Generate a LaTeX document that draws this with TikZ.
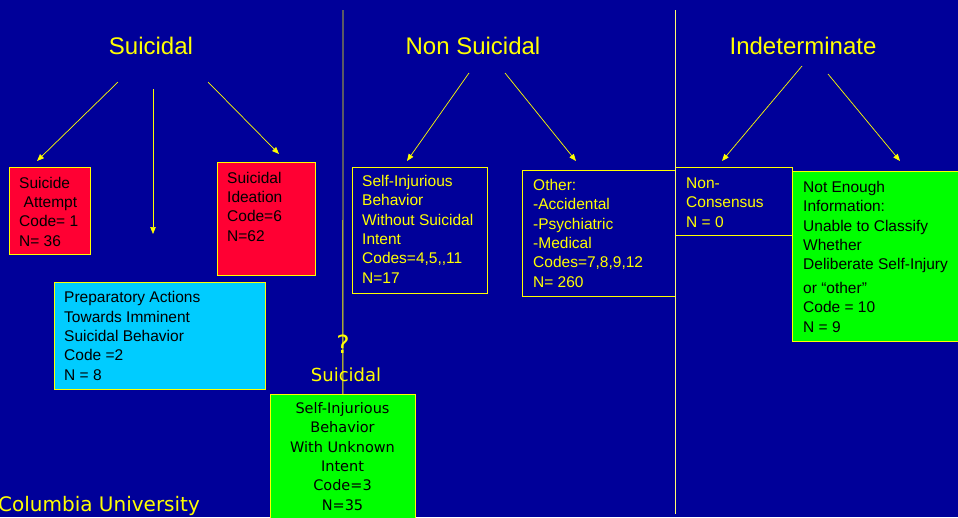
\documentclass[tikz,border=0pt]{standalone}
\usepackage{fontspec}
\setmainfont{Liberation Sans}
\newfontfamily\tahomalike{DejaVu Sans}
\usetikzlibrary{arrows.meta}
\definecolor{bgblue}{RGB}{0,0,153}
\definecolor{boxred}{RGB}{255,0,51}
\definecolor{boxcyan}{RGB}{0,204,255}
\definecolor{boxgreen}{RGB}{0,255,0}
\definecolor{lineyellow}{RGB}{255,255,0}
\definecolor{paleyellow}{RGB}{255,255,110}

\begin{document}
\begin{tikzpicture}
            [x=1pt,y=-1pt,every node/.style={inner sep=0pt},
             box/.style={draw=lineyellow,line width=0.8pt,anchor=north west},
             txt/.style={anchor=base west,align=left,font=\fontsize{15.5}{19.3}\selectfont},
             title/.style={anchor=base,text=lineyellow,font=\fontsize{24}{28}\selectfont},
             arr/.style={draw=lineyellow,line width=0.7pt,-{Triangle[length=7pt,width=5.5pt]}}]
            \fill[bgblue] (0,0) rectangle (958,517);
            \clip (0,0) rectangle (958,517);
            % headings
            \node[title] (suic) at (151,54) {Suicidal};
            \node[title] (nonsuic) at (473,54) {Non Suicidal};
            \node[title] (indet) at (803,54) {Indeterminate};
            % arrow ends
            \coordinate (s1) at (118,82);
            \coordinate (s1e) at (37,161);
            \coordinate (s2) at (153,89);
            \coordinate (s2e) at (153,234);
            \coordinate (s3) at (208,82);
            \coordinate (s3e) at (279,154);
            \coordinate (n1) at (469,73);
            \coordinate (n1e) at (407,161);
            \coordinate (n2) at (505,73);
            \coordinate (n2e) at (576,161);
            \coordinate (i1) at (802,66);
            \coordinate (i1e) at (722,161);
            \coordinate (i2) at (828,74);
            \coordinate (i2e) at (900,161);
            \coordinate (top1) at (343,10);
            \coordinate (top2) at (675,10);
            \coordinate (bot2) at (675,514);
            % boxes
            \node[box,fill=boxred,minimum width=81,minimum height=87] (attempt) at (9,167) {};
            \node[box,fill=boxred,minimum width=98,minimum height=113] (ideation) at (217,162) {};
            \node[box,fill=boxcyan,minimum width=211,minimum height=107] (prep) at (54,282) {};
            \node[box,minimum width=135,minimum height=126] (nosuic) at (352,167) {};
            \node[box,minimum width=153,minimum height=126] (other) at (522,170) {};
            \node[box,minimum width=117,minimum height=68] (noncons) at (675,167) {};
            \node[box,fill=boxgreen,minimum width=170,minimum height=170] (noinfo) at (792,171) {};
            \node[box,fill=boxgreen,minimum width=145,minimum height=130] (unknown) at (270,394) {};
            % the dividers
            \draw[lineyellow,line width=0.9pt] (top1) -- (unknown.north);
            \draw[paleyellow,line width=0.9pt] (top2) -- (bot2);
            % arrows
            \draw[arr] (s1) -- (s1e);
            \draw[arr] (s2) -- (s2e);
            \draw[arr] (s3) -- (s3e);
            \draw[arr] (n1) -- (n1e);
            \draw[arr] (n2) -- (n2e);
            \draw[arr] (i1) -- (i1e);
            \draw[arr] (i2) -- (i2e);
            % box texts (placed by their last baseline)
            \node[txt] (attempt-t) at (19,246) {Suicide\\\hspace*{4.5pt}Attempt\\Code= 1\\N= 36};
            \node[txt] (ideation-t) at (227,241) {Suicidal\\Ideation\\Code=6\\N=62};
            \node[txt] (prep-t) at (64,380) {Preparatory Actions\\Towards Imminent\\Suicidal Behavior\\Code =2\\N = 8};
            \node[txt,text=lineyellow] (nosuic-t) at (362,283) {Self-Injurious\\Behavior\\Without Suicidal\\Intent\\Codes=4,5,{},11\\N=17};
            \node[txt,text=lineyellow] (other-t) at (533,287) {Other:\\-Accidental\\-Psychiatric\\-Medical\\Codes=7,8,9,12\\N= 260};
            \node[txt,text=lineyellow] (noncons-t) at (686,227) {Non-\\Consensus\\N = 0};
            \node[txt] (noinfo-t) at (803,332) {Not Enough\\Information:\\Unable to Classify\\Whether\\Deliberate Self-Injury\\[4.5pt]or “other”\\Code = 10\\N = 9};
            \node[anchor=base,align=center,font=\tahomalike\fontsize{14.5}{19.3}\selectfont] (unknown-t) at (342.5,510) {Self-Injurious\\Behavior\\With Unknown\\Intent\\Code=3\\N=35};
            % loose labels
            \node[anchor=base,text=lineyellow,font=\tahomalike\fontsize{25}{28}\selectfont] (qmark) at (343,353) {?};
            \node[anchor=base,text=lineyellow,font=\tahomalike\fontsize{18}{22}\selectfont] (subsuic) at (346,381) {Suicidal};
            \node[anchor=base west,text=lineyellow,font=\tahomalike\fontsize{20}{24}\selectfont] (univ) at (-2,511) {Columbia University};
        \end{tikzpicture}
\end{document}
